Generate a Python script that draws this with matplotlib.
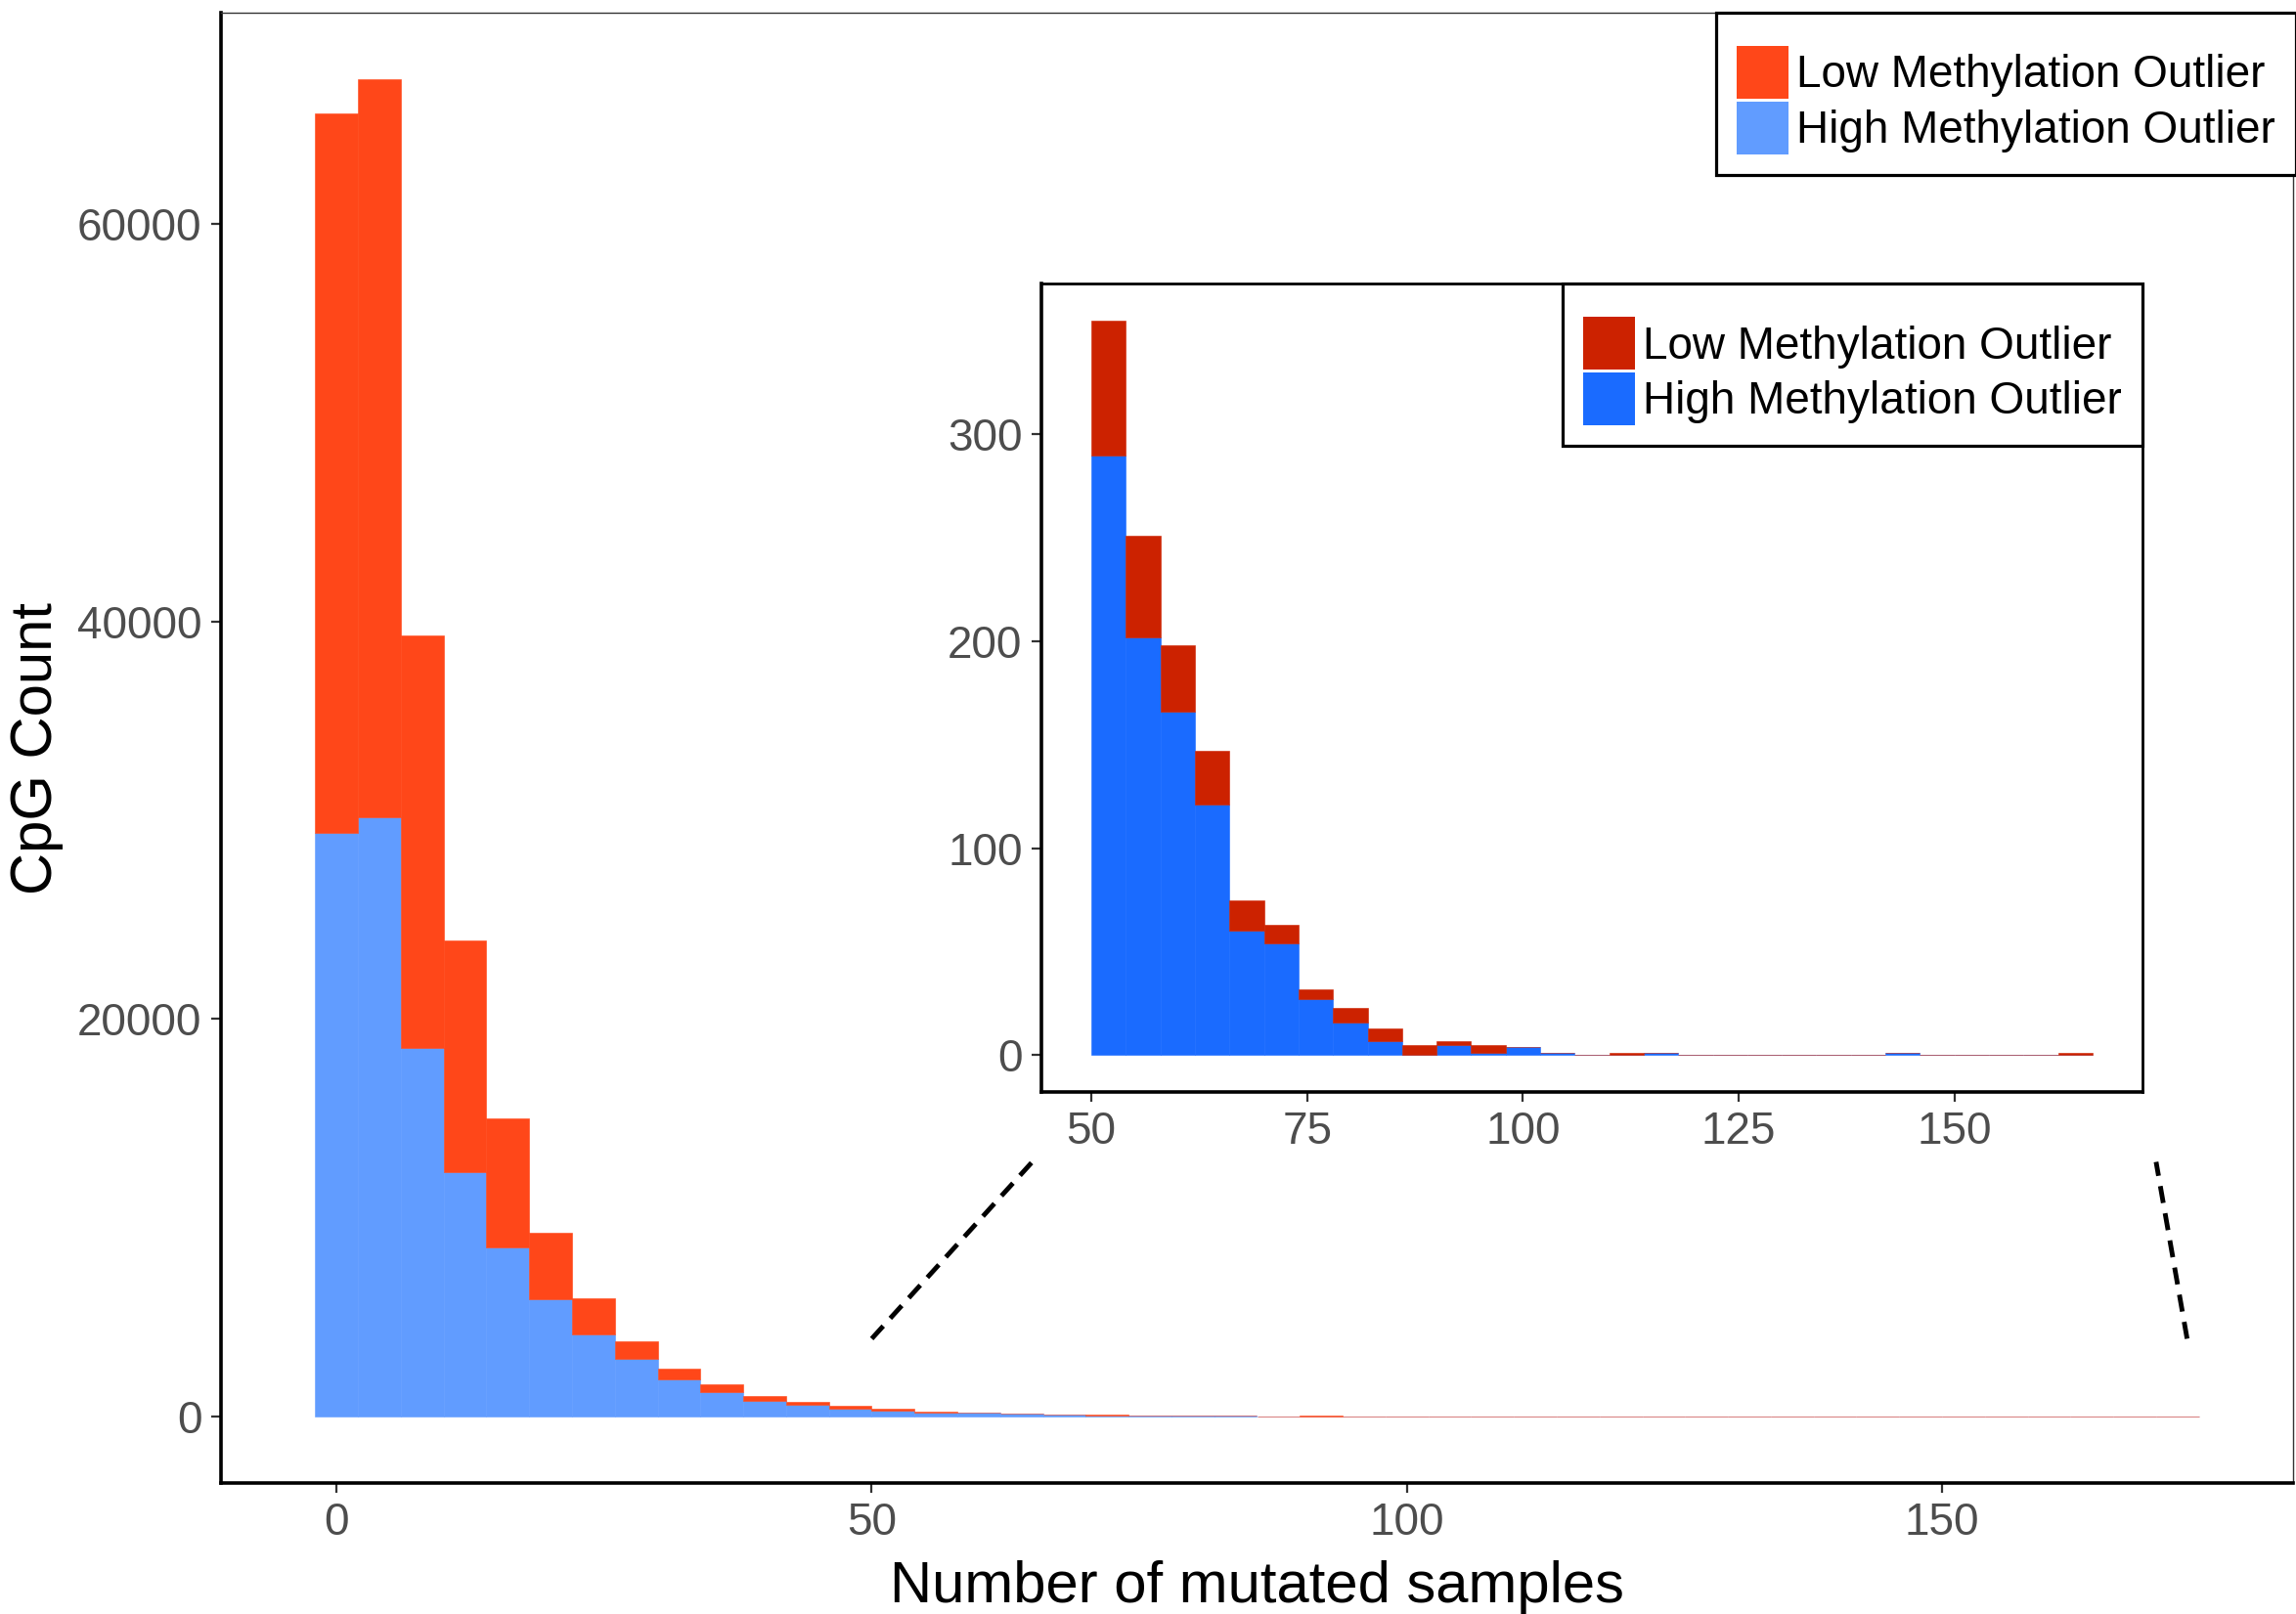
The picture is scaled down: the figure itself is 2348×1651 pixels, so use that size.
import matplotlib
matplotlib.use("Agg")
import matplotlib.pyplot as plt
from matplotlib.patches import Patch
import numpy as np

plt.rcParams["font.family"] = ["Liberation Sans", "DejaVu Sans"]

# histogram bins: width 4, centred on multiples of 4 (0 .. 172)
bin_width = 4
bin_centers = list(range(0, 176, 4))

# CpG counts per bin, stacked: high outliers at the bottom, low outliers on top
high_counts = [29367, 30149, 18520, 12265, 8502, 5864, 4105, 2883, 1850, 1220, 760, 550, 380,
               290, 202, 166, 121, 60, 54, 27, 16, 7, 0, 5, 1, 4, 1, 0, 0, 1, 0,
               0, 0, 0, 0, 0, 1, 0, 0, 0, 0, 0,
               0, 0]
low_counts = [36208, 37136, 20767, 11678, 6499, 3371, 1856, 880, 544, 390, 270, 175, 160,
              65, 49, 32, 26, 15, 9, 5, 7, 6, 5, 2, 4, 0, 0, 0, 1, 0, 0,
              0, 0, 0, 0, 0, 0, 0, 0, 0, 0, 1,
              0, 0]

# zoomed panel shows the bins from 50 upwards (centres 52 .. 164)
zoom_start, zoom_stop = 13, 42

series_labels = ["Low Methylation Outlier", "High Methylation Outlier"]
main_colors = {"low": "#FF4719", "high": "#619CFF"}
zoom_colors = {"low": "#CC2200", "high": "#1A6BFF"}

main_xticks = [0, 50, 100, 150]
main_yticks = [0, 20000, 40000, 60000]
zoom_xticks = [50, 75, 100, 125, 150]
zoom_yticks = [0, 100, 200, 300]

W, H = 2348, 1651
fig = plt.figure(figsize=(W / 100, H / 100), dpi=100)


def stacked(ax, x, hi, lo, colors):
    ax.bar(x, hi, width=bin_width, color=colors["high"], edgecolor=colors["high"], linewidth=0.4)
    ax.bar(x, lo, width=bin_width, bottom=hi, color=colors["low"], edgecolor=colors["low"],
           linewidth=0.4)


def style(ax, thin_color, thin_lw):
    for side in ("left", "bottom"):
        ax.spines[side].set_linewidth(2.6)
        ax.spines[side].set_color("black")
    for side in ("top", "right"):
        ax.spines[side].set_linewidth(thin_lw)
        ax.spines[side].set_color(thin_color)
    ax.tick_params(direction="out", length=7, width=1.6, color="#333333",
                   labelcolor="#4D4D4D", labelsize=33, pad=7)


def legend(ax, colors, anchor, transform):
    handles = [Patch(facecolor=colors["low"], edgecolor="none"),
               Patch(facecolor=colors["high"], edgecolor="none")]
    # blank title keeps the extra gap above the keys
    leg = ax.legend(handles, series_labels, loc="upper right", bbox_to_anchor=anchor,
                    bbox_transform=transform, fontsize=33, frameon=True, fancybox=False,
                    framealpha=1, edgecolor="black", borderaxespad=0, borderpad=0.46,
                    handlelength=1.15, handleheight=1.44, handletextpad=0.18, labelspacing=0.06,
                    title=" ", title_fontsize=8)
    leg.get_frame().set_linewidth(2.3)
    return leg


# main histogram
ax = fig.add_axes([226 / W, 1 - 1517 / H, (2345 - 226) / W, (1517 - 13) / H])
stacked(ax, bin_centers, high_counts, low_counts, main_colors)
ax.set_xlim(-10.8, 182.8)
ax.set_ylim(-3364, 70650)
ax.set_xticks(main_xticks)
ax.set_yticks(main_yticks)
style(ax, "#333333", 1.0)
ax.set_xlabel("Number of mutated samples", fontsize=43, labelpad=11)
ax.set_ylabel("CpG Count", fontsize=43, labelpad=10)

# dashed guides from the tail of the histogram to the zoomed panel
guide = dict(color="black", lw=3.5, ls=(0, (3.6, 2.2)), clip_on=False)
ax.plot([50, 65], [3900, 12800], **guide)
ax.plot([172.9, 170.0], [3900, 12800], **guide)

legend(ax, main_colors, (1.0, 1 - 13 / H), fig.transFigure)

# zoomed panel of the tail
ins = fig.add_axes([1065 / W, 1 - 1117 / H, (2191 - 1065) / W, (1117 - 290.5) / H])
stacked(ins, bin_centers[zoom_start:zoom_stop], high_counts[zoom_start:zoom_stop],
        low_counts[zoom_start:zoom_stop], zoom_colors)
ins.set_xlim(44.2, 171.8)
ins.set_ylim(-17.75, 372.75)
ins.set_xticks(zoom_xticks)
ins.set_yticks(zoom_yticks)
style(ins, "black", 2.0)
legend(ins, zoom_colors, (1, 1), ins.transAxes)

fig.savefig("out.png", dpi=100)
